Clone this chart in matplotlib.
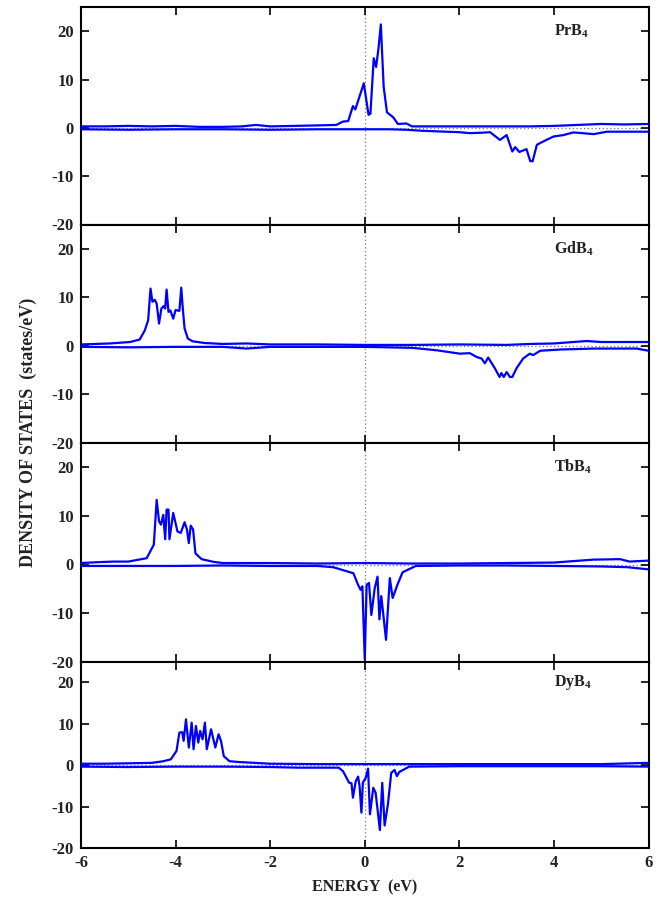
import matplotlib
matplotlib.use("Agg")
import matplotlib.pyplot as plt

# ---------------- data ----------------
materials = ["PrB", "GdB", "TbB", "DyB"]

# PrB4
pr_up_x = [-6.0, -5.5, -5.0, -4.5, -4.0, -3.5, -3.0, -2.6, -2.3, -2.0, -1.5, -1.0, -0.6, -0.46, -0.35,
           -0.25, -0.2, -0.11, -0.02, 0.08, 0.12, 0.19, 0.24, 0.29, 0.34, 0.40, 0.47, 0.60, 0.70, 0.88,
           1.0, 1.5, 2.0, 2.5, 3.0, 3.5, 4.0, 4.5, 5.0, 5.5, 6.0]
pr_up_y = [0.3, 0.3, 0.4, 0.3, 0.4, 0.2, 0.2, 0.3, 0.6, 0.3, 0.4, 0.5, 0.6, 1.3, 1.4,
           4.5, 3.8, 6.5, 9.2, 2.7, 2.9, 14.4, 12.6, 16.4, 21.4, 8.5, 3.2, 2.2, 0.8, 0.9,
           0.3, 0.3, 0.3, 0.3, 0.3, 0.3, 0.4, 0.6, 0.8, 0.7, 0.8]
pr_dn_x = [-6.0, -5.0, -4.0, -3.0, -2.0, -1.0, 0.0, 0.5, 0.88, 1.2, 1.58, 2.0, 2.22, 2.5, 2.65, 2.86,
           3.0, 3.12, 3.18, 3.27, 3.42, 3.50, 3.55, 3.64, 3.78, 3.99, 4.2, 4.41, 4.6, 4.84, 5.12, 5.5, 6.0]
pr_dn_y = [-0.3, -0.4, -0.3, -0.3, -0.4, -0.3, -0.3, -0.3, -0.4, -0.6, -0.75, -0.9, -1.1, -1.0, -0.9, -2.5,
           -1.5, -4.9, -4.0, -5.0, -4.4, -6.9, -6.9, -3.5, -2.8, -1.8, -1.5, -0.95, -1.1, -1.3, -0.8, -0.8, -0.8]

# GdB4
gd_up_x = [-6.0, -5.7, -5.39, -4.96, -4.76, -4.65, -4.58, -4.53, -4.49, -4.44, -4.40, -4.35, -4.30,
           -4.25, -4.22, -4.19, -4.15, -4.11, -4.05, -4.0, -3.92, -3.88, -3.85, -3.81, -3.74, -3.64,
           -3.39, -3.0, -2.5, -2.0, -1.0, 0.0, 1.0, 2.0, 3.0, 3.5, 4.0, 4.69, 5.0, 5.54, 6.0]
gd_up_y = [0.3, 0.4, 0.5, 0.8, 1.3, 3.2, 5.3, 11.8, 9.1, 9.5, 8.7, 4.6, 7.7,
           8.2, 7.7, 11.6, 7.0, 7.3, 5.6, 7.4, 7.2, 12.0, 8.0, 3.6, 1.5, 0.95,
           0.6, 0.4, 0.5, 0.3, 0.3, 0.2, 0.2, 0.3, 0.2, 0.4, 0.5, 1.0, 0.8, 0.8, 0.8]
gd_dn_x = [-6.0, -5.0, -4.0, -3.0, -2.5, -2.0, -1.0, 0.0, 1.0, 1.52, 2.01, 2.22, 2.37, 2.47, 2.54,
           2.61, 2.68, 2.75, 2.85, 2.89, 2.94, 3.0, 3.07, 3.12, 3.21, 3.35, 3.49, 3.56, 3.71, 4.13,
           4.84, 5.75, 6.0]
gd_dn_y = [-0.2, -0.3, -0.2, -0.2, -0.55, -0.2, -0.2, -0.2, -0.4, -0.9, -1.6, -1.5, -2.3, -2.6, -3.6,
           -2.4, -3.5, -4.6, -6.4, -5.6, -6.4, -5.4, -6.4, -6.4, -4.6, -2.6, -1.6, -1.9, -1.0, -0.75,
           -0.55, -0.55, -1.0]

# TbB4
tb_up_x = [-6.0, -5.6, -5.3, -5.0, -4.61, -4.46, -4.40, -4.35, -4.31, -4.26, -4.22, -4.19, -4.15,
           -4.13, -4.05, -3.96, -3.89, -3.81, -3.76, -3.72, -3.68, -3.63, -3.58, -3.45, -3.2, -3.0,
           -2.0, -1.0, 0.0, 1.0, 2.0, 3.0, 4.0, 4.83, 5.4, 5.6, 6.0]
tb_up_y = [0.3, 0.5, 0.6, 0.6, 1.3, 4.1, 13.3, 8.9, 8.2, 10.2, 5.2, 11.3, 11.3,
           5.2, 10.6, 6.8, 6.5, 8.7, 7.2, 4.4, 8.0, 7.2, 2.3, 1.1, 0.55, 0.3,
           0.3, 0.2, 0.3, 0.2, 0.2, 0.3, 0.4, 1.0, 1.1, 0.6, 0.8]
tb_dn_x = [-6.0, -5.0, -4.0, -3.0, -2.0, -1.0, -0.67, -0.24, -0.14, -0.09, -0.05, 0.0, 0.04, 0.09,
           0.14, 0.21, 0.27, 0.31, 0.35, 0.45, 0.53, 0.59, 0.69, 0.80, 1.08, 2.0, 3.0, 4.0, 5.0,
           5.55, 6.0]
tb_dn_y = [-0.3, -0.3, -0.3, -0.2, -0.3, -0.3, -0.55, -1.8, -4.2, -5.2, -4.5, -19.5, -4.2, -3.8,
           -10.4, -4.9, -2.5, -11.3, -6.5, -15.5, -2.8, -6.9, -4.2, -1.6, -0.3, -0.2, -0.2, -0.3, -0.4,
           -0.55, -1.0]

# DyB4
dy_up_x = [-6.0, -5.5, -5.0, -4.5, -4.26, -4.1, -3.98, -3.92, -3.86, -3.83, -3.78, -3.72, -3.66,
           -3.62, -3.57, -3.52, -3.48, -3.43, -3.38, -3.34, -3.25, -3.16, -3.09, -3.04, -2.98, -2.86,
           -2.65, -2.0, -1.0, 0.0, 1.0, 2.0, 3.0, 4.0, 5.0, 6.0]
dy_up_y = [0.4, 0.4, 0.5, 0.6, 1.0, 1.45, 3.5, 7.9, 8.0, 5.9, 11.1, 4.3, 10.3,
           3.9, 9.5, 5.5, 8.3, 6.3, 10.3, 3.9, 8.7, 4.3, 7.5, 5.9, 2.2, 1.0,
           0.8, 0.4, 0.3, 0.3, 0.3, 0.3, 0.3, 0.3, 0.3, 0.6]
dy_dn_x = [-6.0, -5.0, -4.0, -3.0, -2.0, -1.4, -0.55, -0.46, -0.33, -0.28, -0.25, -0.19, -0.14,
           -0.11, -0.07, -0.04, 0.02, 0.07, 0.11, 0.18, 0.23, 0.32, 0.37, 0.42, 0.49, 0.56, 0.63,
           0.68, 0.73, 0.94, 2.0, 3.0, 4.0, 5.0, 6.0]
dy_dn_y = [-0.3, -0.4, -0.3, -0.3, -0.4, -0.55, -0.55, -1.4, -4.2, -4.3, -7.8, -3.8, -2.7,
           -5.0, -11.4, -4.2, -3.0, -0.8, -11.8, -5.4, -6.6, -15.6, -4.2, -14.5, -9.4, -1.8, -1.1,
           -2.6, -1.6, -0.3, -0.2, -0.2, -0.2, -0.2, -0.3]

panels = [
    (pr_up_x, pr_up_y, pr_dn_x, pr_dn_y),
    (gd_up_x, gd_up_y, gd_dn_x, gd_dn_y),
    (tb_up_x, tb_up_y, tb_dn_x, tb_dn_y),
    (dy_up_x, dy_up_y, dy_dn_x, dy_dn_y),
]

x_ticks = [-6, -4, -2, 0, 2, 4, 6]
y_ticks = [-20, -10, 0, 10, 20]

# ---------------- style ----------------
plt.rcParams["font.family"] = ["Liberation Serif", "DejaVu Serif"]
plt.rcParams["font.weight"] = "bold"
plt.rcParams["axes.unicode_minus"] = False
plt.rcParams["mathtext.fontset"] = "custom"
plt.rcParams["mathtext.rm"] = "Liberation Serif:bold"
plt.rcParams["mathtext.bf"] = "Liberation Serif:bold"
plt.rcParams["mathtext.it"] = "Liberation Serif:bold"

fig = plt.figure(figsize=(6.61, 8.98), dpi=100)
W, H = 661.0, 898.0
left, right = 81.0, 648.5
bounds = [(7.0, 224.5), (224.5, 443.0), (443.0, 661.7), (661.7, 848.3)]
text_color = "#222222"

for i, ((ux, uy, dx, dy), (top, bot)) in enumerate(zip(panels, bounds)):
    ax = fig.add_axes([left / W, 1 - bot / H, (right - left) / W, (bot - top) / H])
    ax.axhline(0, color="#777777", lw=0.9, ls=(0, (1, 2)), zorder=1)
    ax.axvline(0, color="#777777", lw=0.9, ls=(0, (1, 2)), zorder=1)
    ax.plot(ux, uy, color="#0000ff", lw=1.6, zorder=3)
    ax.plot(dx, dy, color="#0000ff", lw=1.6, zorder=3)
    ax.set_xlim(-6, 6)
    ax.set_ylim(-20, 25)
    ax.set_xticks(x_ticks)
    ax.set_yticks(y_ticks)
    ax.tick_params(direction="in", length=6, width=1.2, top=True, right=True,
                   labelsize=12, colors="black", labelcolor=text_color, pad=5)
    for lab in ax.get_yticklabels():
        lab.set_fontweight("bold")
    if i < 3:
        ax.tick_params(labelbottom=False)
    else:
        for lab in ax.get_xticklabels():
            lab.set_fontweight("bold")
    for sp in ax.spines.values():
        sp.set_linewidth(1.5)
    ax.text(4.0, 20, materials[i] + r"$_{\mathrm{4}}$", fontsize=11.5, fontweight="bold",
            ha="left", va="center", color=text_color)
    if i == 3:
        ax.set_xlabel("ENERGY  (eV)", fontsize=11.5, fontweight="bold", color=text_color, labelpad=6)

fig.text(28 / W, 1 - 432 / H, "DENSITY OF STATES  (states/eV)", rotation=90,
         ha="center", va="center", fontsize=13, fontweight="bold", color=text_color)

fig.savefig("out.png", dpi=100)
